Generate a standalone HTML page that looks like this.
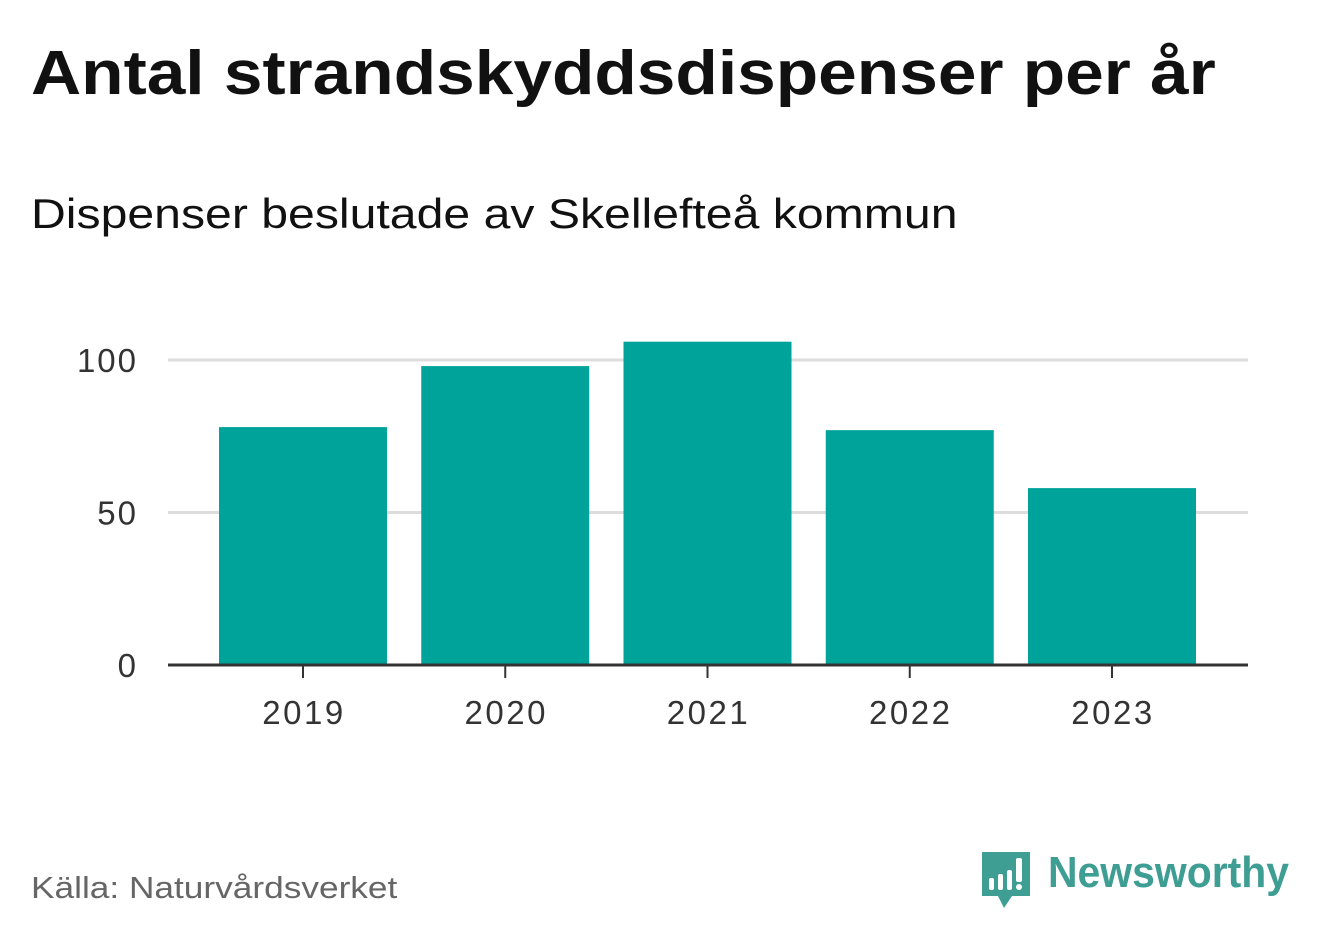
<!DOCTYPE html>
<html><head><meta charset="utf-8"><style>
body{margin:0;width:1322px;height:939px;background:#fff;font-family:"Liberation Sans",sans-serif;overflow:hidden;position:relative}
.t{position:absolute;left:31px;top:38px;font-size:62px;font-weight:bold;color:#111;transform:scaleX(1.12);transform-origin:0 0;white-space:nowrap}
.s{position:absolute;left:31px;top:190px;font-size:42px;color:#111;transform:scaleX(1.147);transform-origin:0 0;white-space:nowrap}
.src{position:absolute;left:31px;top:870px;font-size:31px;color:#666;transform:scaleX(1.137);transform-origin:0 0;white-space:nowrap}
.logo{position:absolute;left:1048px;top:848px;font-size:44px;font-weight:bold;color:#3f9e93;transform:scaleX(0.93);transform-origin:0 0;white-space:nowrap}
</style></head><body>
<div class="t">Antal strandskyddsdispenser per år</div>
<div class="s">Dispenser beslutade av Skellefteå kommun</div>
<svg id="c" width="1322" height="939" style="position:absolute;left:0;top:0"></svg>
<div class="src">Källa: Naturvårdsverket</div>
<svg style="position:absolute;left:980px;top:850px" width="52" height="60">
<path d="M2 2h48v44H32l-8 12-6-12H2z" fill="#3f9e93"/>
<rect x="9" y="28" width="5" height="12" rx="2" fill="#fff"/><rect x="18" y="24" width="5" height="16" rx="2" fill="#fff"/><rect x="27" y="20" width="5" height="20" rx="2" fill="#fff"/><rect x="36" y="8" width="6" height="24" rx="2" fill="#fff"/><circle cx="39" cy="37" r="3" fill="#fff"/></svg>
<div class="logo">Newsworthy</div>
<script>
const categories=["2019","2020","2021","2022","2023"];
const values=[78,98,106,77,58];
const yTicks=[0,50,100];
const ns="http://www.w3.org/2000/svg",svg=document.getElementById('c');
const y0=665,k=3.05,x0=168,x1=1248,step=202.25,c0=303,bw=168;
const y=v=>y0-v*k, x=i=>c0+i*step;
function mk(t,a){const e=document.createElementNS(ns,t);for(const n in a)e.setAttribute(n,a[n]);svg.appendChild(e);return e;}
yTicks.forEach(v=>{
 if(v>0){const g=mk('line',{x1:x0,x2:x1,y1:y(v),y2:y(v),stroke:'#ddd','stroke-width':3});
 
 }
 const t=mk('text',{x:138,y:y(v)+12,'text-anchor':'end','font-size':33,'letter-spacing':2,fill:'#333','font-family':'Liberation Sans'});t.textContent=v;
 
 
});
categories.forEach((c,i)=>{
 const r=mk('rect',{x:x(i)-bw/2,y:y(values[i]),width:bw,height:values[i]*k,fill:'#00a39a'});
 
 
 const tk=mk('line',{x1:x(i),x2:x(i),y1:y0,y2:y0+13,stroke:'#333','stroke-width':2});
 
 
 const t=mk('text',{x:x(i)+1,y:724,'text-anchor':'middle','font-size':33,'letter-spacing':2.5,fill:'#333','font-family':'Liberation Sans'});t.textContent=c;
 
 
});
const ax=mk('line',{x1:x0,x2:x1,y1:y0,y2:y0,stroke:'#333','stroke-width':3});


</script>
</body></html>
